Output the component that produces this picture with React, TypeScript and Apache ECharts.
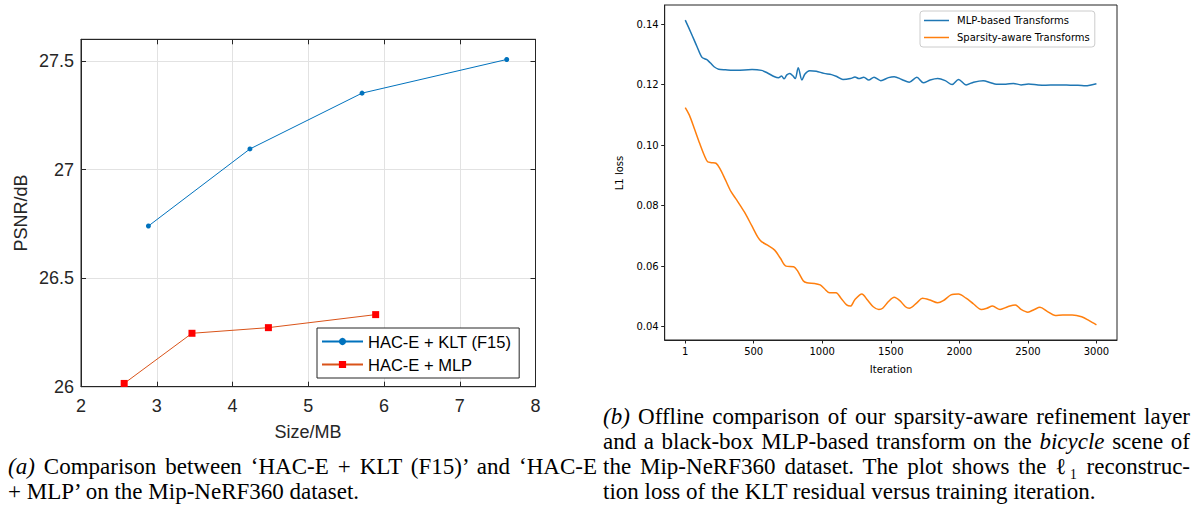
import React, { useEffect, useRef } from "react";
import * as echarts from "echarts";

// ---- Left chart (a) data ----
const sizeKLT = [2.89, 4.23, 5.71, 7.62];
const psnrKLT = [26.74, 27.095, 27.352, 27.507];
const sizeMLP = [2.57, 3.465, 4.474, 5.89];
const psnrMLP = [26.015, 26.246, 26.272, 26.332];
const seriesNamesA = ["HAC-E + KLT (F15)", "HAC-E + MLP"];

// ---- Right chart (b) data ----
const iterMLP = [1, 45, 87, 123, 156, 183, 211, 244, 294, 377, 488, 557, 598, 653, 681, 703, 722, 742, 764, 786, 803, 825, 852, 874, 908, 957, 1013, 1068, 1109, 1151, 1206, 1239, 1267, 1303, 1339, 1378, 1427, 1483, 1525, 1580, 1635, 1690, 1737, 1787, 1842, 1897, 1947, 1994, 2049, 2104, 2174, 2229, 2270, 2339, 2395, 2450, 2505, 2574, 2630, 2699, 2754, 2809, 2865, 2920, 2961, 3000];
const lossMLP = [0.1413, 0.1369, 0.1325, 0.129, 0.1283, 0.1272, 0.1259, 0.1251, 0.1249, 0.1247, 0.125, 0.1247, 0.1239, 0.1226, 0.1223, 0.1228, 0.1219, 0.1232, 0.1237, 0.1229, 0.122, 0.1256, 0.1215, 0.1235, 0.1246, 0.1244, 0.1237, 0.1233, 0.1226, 0.1217, 0.122, 0.1225, 0.122, 0.1224, 0.1215, 0.1224, 0.1213, 0.1223, 0.1226, 0.1217, 0.1208, 0.1224, 0.1206, 0.1215, 0.122, 0.1213, 0.12, 0.1217, 0.1199, 0.1208, 0.1213, 0.1206, 0.1201, 0.1201, 0.1204, 0.1199, 0.1202, 0.1199, 0.1198, 0.1199, 0.1199, 0.1198, 0.1198, 0.1196, 0.1199, 0.1203];
const iterSparse = [1, 31, 67, 106, 142, 164, 192, 225, 253, 294, 335, 377, 432, 488, 529, 557, 598, 653, 695, 736, 792, 819, 861, 888, 944, 985, 1013, 1054, 1101, 1137, 1178, 1206, 1239, 1289, 1330, 1372, 1413, 1441, 1483, 1525, 1566, 1607, 1635, 1690, 1731, 1787, 1842, 1883, 1939, 1994, 2049, 2104, 2160, 2201, 2242, 2297, 2353, 2408, 2450, 2500, 2547, 2588, 2643, 2699, 2754, 2823, 2892, 2947, 3000];
const lossSparse = [0.1124, 0.1099, 0.1055, 0.1006, 0.0964, 0.0945, 0.0942, 0.094, 0.0923, 0.0885, 0.0846, 0.0818, 0.0779, 0.0732, 0.0697, 0.0681, 0.067, 0.0653, 0.0626, 0.06, 0.0598, 0.0585, 0.0552, 0.0545, 0.0543, 0.0538, 0.0527, 0.0512, 0.0512, 0.0494, 0.0472, 0.0468, 0.049, 0.0508, 0.0488, 0.0466, 0.0457, 0.0461, 0.0483, 0.0497, 0.0486, 0.0466, 0.0461, 0.0479, 0.0494, 0.0488, 0.0479, 0.0486, 0.0505, 0.0508, 0.0494, 0.0475, 0.0457, 0.0461, 0.0468, 0.0457, 0.0466, 0.0472, 0.0457, 0.0448, 0.0457, 0.0464, 0.045, 0.0437, 0.0439, 0.0439, 0.0433, 0.042, 0.0406];
const seriesNamesB = ["MLP-based Transforms", "Sparsity-aware Transforms"];
const iterTicks = [1, 500, 1000, 1500, 2000, 2500, 3000];
const lossTicks = [0.04, 0.06, 0.08, 0.1, 0.12, 0.14];

const zip = (xs: number[], ys: number[]) => {
  const n = Math.min(xs.length, ys.length);
  const out: number[][] = [];
  for (let i = 0; i < n; i++) out.push([xs[i], ys[i]]);
  return out;
};

const ML = "#262626";
const SANS = "Liberation Sans, Arial, sans-serif";
const DJV = "DejaVu Sans, sans-serif";

const lineStyleBox = (color: string) => ({ show: true, onZero: false, lineStyle: { color, width: 1 } });

export default function App() {
  const ref = useRef<HTMLDivElement>(null);

  useEffect(() => {
    if (!ref.current) return;
    const chart = echarts.init(ref.current, null, { renderer: "svg" });
    const option: any = {
      animation: false,
      backgroundColor: "#ffffff",
      grid: [
        { left: 81, top: 39.3, width: 454.5, height: 347.4, show: true, borderColor: ML, borderWidth: 1, backgroundColor: "#fff" },
        { left: 664.7, top: 5, width: 452.3, height: 335, show: true, borderColor: "#222", borderWidth: 1, backgroundColor: "#fff" },
      ],
      xAxis: [
        {
          gridIndex: 0, type: "value", min: 2, max: 8, interval: 1, position: "bottom",
          axisLine: lineStyleBox(ML),
          axisTick: { show: true, inside: true, length: 5, lineStyle: { color: ML } },
          axisLabel: { fontSize: 18, fontFamily: SANS, color: ML, margin: 10 },
          splitLine: { show: true, lineStyle: { color: "#e2e2e2", width: 1 } },
        },
        {
          gridIndex: 0, type: "value", min: 2, max: 8, interval: 1, position: "top",
          axisLine: lineStyleBox(ML),
          axisTick: { show: true, inside: true, length: 5, lineStyle: { color: ML } },
          axisLabel: { show: false },
          splitLine: { show: false },
        },
        {
          gridIndex: 1, type: "value", min: -148.95, max: 3149.95, position: "bottom",
          axisLine: lineStyleBox("#222"),
          axisTick: { show: true, inside: false, length: 3.5, customValues: iterTicks, lineStyle: { color: "#222" } },
          axisLabel: {
            customValues: iterTicks, fontSize: 10, fontFamily: DJV, color: "#000", margin: 6,
            formatter: (v: number) => String(Math.round(v)),
          },
          splitLine: { show: false },
        },
      ],
      yAxis: [
        {
          gridIndex: 0, type: "value", min: 26, max: 27.6, interval: 0.5, position: "left",
          axisLine: lineStyleBox(ML),
          axisTick: { show: true, inside: true, length: 5, lineStyle: { color: ML } },
          axisLabel: { fontSize: 18, fontFamily: SANS, color: ML, margin: 7, showMaxLabel: false },
          splitLine: { show: true, lineStyle: { color: "#e2e2e2", width: 1 } },
        },
        {
          gridIndex: 0, type: "value", min: 26, max: 27.6, interval: 0.5, position: "right",
          axisLine: lineStyleBox(ML),
          axisTick: { show: true, inside: true, length: 5, lineStyle: { color: ML } },
          axisLabel: { show: false },
          splitLine: { show: false },
        },
        {
          gridIndex: 1, type: "value", min: 0.0356, max: 0.1463, position: "left",
          axisLine: lineStyleBox("#222"),
          axisTick: { show: true, inside: false, length: 3.5, customValues: lossTicks, lineStyle: { color: "#222" } },
          axisLabel: {
            customValues: lossTicks, fontSize: 10, fontFamily: DJV, color: "#000", margin: 6,
            formatter: (v: number) => v.toFixed(2),
          },
          splitLine: { show: false },
        },
      ],
      legend: [
        {
          data: seriesNamesA, orient: "vertical", left: 317, top: 328,
          itemWidth: 41, itemHeight: 9, itemGap: 4, padding: [4, 8, 4, 4],
          backgroundColor: "#fff", borderColor: ML, borderWidth: 1, selectedMode: false,
          textStyle: { fontFamily: SANS, fontSize: 16.5, color: "#000", lineHeight: 19 },
        },
        {
          data: seriesNamesB, orient: "vertical", left: 920, top: 11,
          icon: "rect", itemWidth: 25, itemHeight: 1.5, itemGap: 4, padding: [3, 5, 3, 4],
          backgroundColor: "rgba(255,255,255,0.8)", borderColor: "#cccccc", borderWidth: 1, borderRadius: 3,
          selectedMode: false,
          textStyle: { fontFamily: DJV, fontSize: 10, color: "#000", lineHeight: 13, padding: [0, 0, 0, 3] },
        },
      ],
      series: [
        {
          name: seriesNamesA[0], type: "line", xAxisIndex: 0, yAxisIndex: 0,
          data: zip(sizeKLT, psnrKLT), symbol: "circle", symbolSize: 5,
          lineStyle: { color: "#0072BD", width: 1 }, itemStyle: { color: "#0072BD" },
        },
        {
          name: seriesNamesA[1], type: "line", xAxisIndex: 0, yAxisIndex: 0,
          data: zip(sizeMLP, psnrMLP), symbol: "rect", symbolSize: 7,
          lineStyle: { color: "#D95319", width: 1 }, itemStyle: { color: "#FF0000" },
        },
        {
          name: seriesNamesB[0], type: "line", xAxisIndex: 2, yAxisIndex: 2,
          data: zip(iterMLP, lossMLP), symbol: "none", showSymbol: false, smooth: 0.3,
          lineStyle: { color: "#1f77b4", width: 1.5 }, itemStyle: { color: "#1f77b4" },
        },
        {
          name: seriesNamesB[1], type: "line", xAxisIndex: 2, yAxisIndex: 2,
          data: zip(iterSparse, lossSparse), symbol: "none", showSymbol: false, smooth: 0.3,
          lineStyle: { color: "#ff7f0e", width: 1.5 }, itemStyle: { color: "#ff7f0e" },
        },
      ],
      graphic: [
        { type: "text", x: 20.5, y: 213, rotation: Math.PI / 2, style: { text: "PSNR/dB", font: `18px ${SANS}`, fill: ML, align: "center", verticalAlign: "middle" } },
        { type: "text", x: 308, y: 432, style: { text: "Size/MB", font: `18px ${SANS}`, fill: ML, align: "center", verticalAlign: "middle" } },
        { type: "text", x: 619, y: 173, rotation: Math.PI / 2, style: { text: "L1 loss", font: `10px ${DJV}`, fill: "#000", align: "center", verticalAlign: "middle" } },
        { type: "text", x: 891, y: 369, style: { text: "Iteration", font: `10px ${DJV}`, fill: "#000", align: "center", verticalAlign: "middle" } },
      ],
    };
    chart.setOption(option);
    return () => chart.dispose();
  }, []);

  const cap: React.CSSProperties = {
    position: "absolute",
    fontFamily: "'Liberation Serif', 'Times New Roman', serif",
    fontSize: "23px",
    lineHeight: "25px",
    height: 25,
    color: "#000",
    whiteSpace: "nowrap",
    textAlign: "justify",
    textAlignLast: "justify" as any,
  };
  const capLast: React.CSSProperties = { ...cap, textAlign: "left", textAlignLast: "left" as any };

  return (
    <div style={{ position: "absolute", left: 0, top: 0, width: 1194, height: 507, background: "#fff", overflow: "hidden" }}>
      <div ref={ref} style={{ position: "absolute", left: 0, top: 0, width: 1194, height: 507 }} />
      <div style={{ ...cap, left: 8, top: 453.5, width: 589 }}>
        <i>(a)</i> Comparison between ‘HAC-E + KLT (F15)’ and ‘HAC-E
      </div>
      <div style={{ ...capLast, left: 8, top: 478.5, width: 589 }}>+ MLP’ on the Mip-NeRF360 dataset.</div>
      <div style={{ ...cap, left: 603, top: 403.5, width: 587 }}>
        <i>(b)</i> Offline comparison of our sparsity-aware refinement layer
      </div>
      <div style={{ ...cap, left: 603, top: 428.5, width: 587 }}>
        and a black-box MLP-based transform on the <i>bicycle</i> scene of
      </div>
      <div style={{ ...cap, left: 603, top: 453.5, width: 587 }}>
        the Mip-NeRF360 dataset. The plot shows the ℓ₁ reconstruc-
      </div>
      <div style={{ ...capLast, left: 603, top: 478.5, width: 587 }}>
        tion loss of the KLT residual versus training iteration.
      </div>
    </div>
  );
}
